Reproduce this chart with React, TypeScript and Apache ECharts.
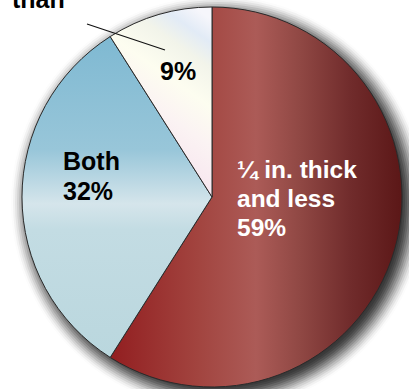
import React, { useEffect, useRef } from "react";
import * as echarts from "echarts";

const categories = ["¼ in. thick and less", "Both", "More than ¼ in."];
const shares = [59, 32, 9];
const redLabel = ["¼ in. thick", "and less", "59%"];
const bothLabel = ["Both", "32%"];
const smallLabel = ["9%"];
const cutLabel = ["than"];

const FONT = "'Liberation Sans', Arial, Helvetica, sans-serif";

export default function App() {
  const ref = useRef<HTMLDivElement>(null);
  useEffect(() => {
    if (!ref.current) return;
    const chart = echarts.init(ref.current, undefined, { renderer: "svg" });

    const redFill = new echarts.graphic.LinearGradient(110, 0, 402, 0, [
      { offset: 0, color: "#921e20" },
      { offset: 0.3, color: "#a2443f" },
      { offset: 0.5, color: "#ac5b57" },
      { offset: 0.65, color: "#904844" },
      { offset: 0.82, color: "#712c2c" },
      { offset: 1, color: "#5b1717" },
    ], true);
    const blueFill = new echarts.graphic.LinearGradient(0, 38, 0, 357, [
      { offset: 0, color: "#7fb9d2" },
      { offset: 0.35, color: "#98c6d9" },
      { offset: 0.52, color: "#d5e5eb" },
      { offset: 0.6, color: "#c3dce3" },
      { offset: 1, color: "#bad7de" },
    ], true);
    const creamFill = new echarts.graphic.LinearGradient(120, 150, 212, 20, [
      { offset: 0, color: "#f6e2ee" },
      { offset: 0.35, color: "#fbf3f3" },
      { offset: 0.55, color: "#fdfdf0" },
      { offset: 0.75, color: "#f2f4ea" },
      { offset: 0.88, color: "#e2ebf6" },
      { offset: 1, color: "#f6f6fb" },
    ], true);
    const fills = [redFill, blueFill, creamFill];

    // soft drop shadow: opaque grey full discs (pie series), outer light first
    const shadowSeries: any[] = [];
    const rIn = 183;
    const rOut = 209;
    let k = 0;
    for (let r = rOut; r >= rIn; r -= 2) {
      const t = (r - rIn) / (rOut - rIn);
      const s = t * t * (3 - 2 * t);
      const a = 0.78 * (1 - s);
      const g = Math.round(255 * (1 - a));
      shadowSeries.push({
        type: "pie",
        silent: true,
        center: [218, 203],
        radius: r,
        label: { show: false },
        labelLine: { show: false },
        emphasis: { disabled: true },
        itemStyle: { color: `rgb(${g},${g},${g})`, borderWidth: 0 },
        data: [{ value: 1, name: "shadow" + k }],
        z: 1,
      });
      k++;
    }

    const textEls: any[] = [];
    const addLines = (lines: string[], x: number, firstMid: number, step: number, size: number, color: string) => {
      lines.forEach((t, i) => {
        textEls.push({
          type: "text",
          x,
          y: firstMid + i * step,
          silent: true,
          z: 100,
          style: {
            text: t,
            fill: color,
            font: `bold ${size}px ${FONT}`,
            verticalAlign: "middle",
            align: "left",
          },
        });
      });
    };
    addLines(redLabel, 237, 169.5, 29, 24.5, "#ffffff");
    addLines(bothLabel, 63, 160.5, 30, 25, "#000000");
    addLines(smallLabel, 160, 71, 30, 25, "#000000");
    addLines(cutLabel, 12, -1.5, 30, 25, "#000000");

    chart.setOption({
      animation: false,
      series: [
        ...shadowSeries,
        {
          type: "pie",
          silent: true,
          center: [212, 197],
          radius: 190,
          startAngle: 90,
          clockwise: true,
          label: { show: false },
          labelLine: { show: false },
          emphasis: { disabled: true },
          itemStyle: { borderColor: "#2a2a2a", borderWidth: 1 },
          data: categories.map((name, i) => ({
            name,
            value: shares[i],
            itemStyle: { color: fills[i] },
          })),
          z: 5,
        },
      ],
      graphic: [
        {
          type: "line",
          silent: true,
          z: 100,
          shape: { x1: 87, y1: 24, x2: 165, y2: 50 },
          style: { stroke: "#111111", lineWidth: 1.2 },
        },
        ...textEls,
      ],
    });
    return () => chart.dispose();
  }, []);
  return (
    <div
      ref={ref}
      style={{ position: "absolute", left: 0, top: 0, width: 409, height: 389, background: "#ffffff" }}
    />
  );
}
